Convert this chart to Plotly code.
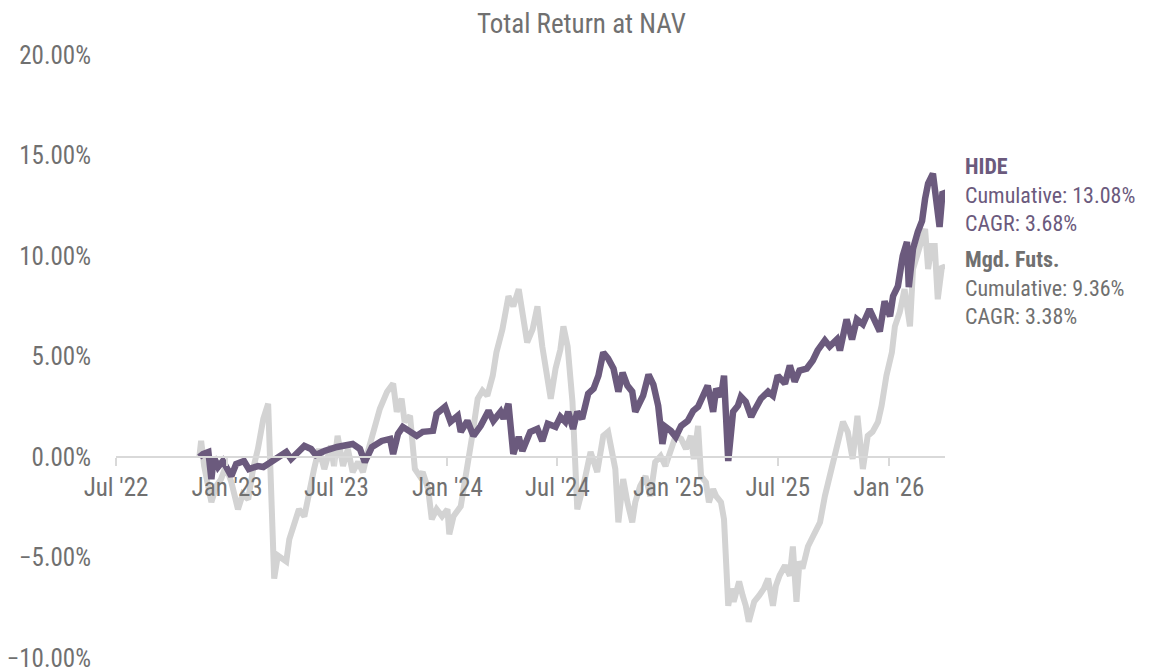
import plotly.graph_objects as go

# -------- DATA (total return at NAV, %) --------
hide_dates = [
    "2022-11-16", "2022-11-22", "2022-12-01", "2022-12-06", "2022-12-10", "2022-12-17", "2022-12-25",
    "2022-12-30", "2023-01-08", "2023-01-16", "2023-01-29", "2023-02-06", "2023-02-21", "2023-03-02",
    "2023-03-15", "2023-04-09", "2023-04-17", "2023-04-29", "2023-05-09", "2023-05-20", "2023-05-28",
    "2023-06-11", "2023-07-02", "2023-07-28", "2023-08-09", "2023-08-17", "2023-08-29", "2023-09-14",
    "2023-09-28", "2023-10-03", "2023-10-11", "2023-10-19", "2023-10-31", "2023-11-11", "2023-11-21",
    "2023-12-08", "2023-12-14", "2023-12-28", "2024-01-06", "2024-01-18", "2024-01-23", "2024-02-03",
    "2024-02-13", "2024-02-25", "2024-03-09", "2024-03-17", "2024-03-29", "2024-04-03", "2024-04-11",
    "2024-04-19", "2024-04-28", "2024-05-04", "2024-05-17", "2024-05-29", "2024-06-06", "2024-06-15",
    "2024-06-28", "2024-07-06", "2024-07-14", "2024-07-19", "2024-07-27", "2024-08-03", "2024-08-11",
    "2024-08-21", "2024-08-30", "2024-09-07", "2024-09-15", "2024-09-23", "2024-10-02", "2024-10-10",
    "2024-10-17", "2024-10-25", "2024-11-02", "2024-11-07", "2024-11-15", "2024-11-20", "2024-11-29",
    "2024-12-07", "2024-12-15", "2024-12-22", "2024-12-27", "2025-01-05", "2025-01-13", "2025-01-22",
    "2025-02-02", "2025-02-11", "2025-02-19", "2025-03-01", "2025-03-07", "2025-03-16", "2025-03-21",
    "2025-03-29", "2025-04-03", "2025-04-10", "2025-04-18", "2025-04-26", "2025-05-01", "2025-05-09",
    "2025-05-18", "2025-05-23", "2025-06-03", "2025-06-15", "2025-06-23", "2025-07-01", "2025-07-13",
    "2025-07-21", "2025-07-29", "2025-08-06", "2025-08-18", "2025-08-28", "2025-09-05", "2025-09-17",
    "2025-09-25", "2025-10-07", "2025-10-12", "2025-10-23", "2025-11-01", "2025-11-09", "2025-11-19",
    "2025-11-30", "2025-12-09", "2025-12-17", "2025-12-25", "2026-01-03", "2026-01-08", "2026-01-16",
    "2026-01-24", "2026-01-31", "2026-02-03", "2026-02-10", "2026-02-18", "2026-02-25", "2026-03-02",
    "2026-03-07", "2026-03-15", "2026-03-21", "2026-03-26", "2026-03-31", "2026-04-04",
]
hide_ret = [
    0.0, 0.15, 0.25, -1.1, 0.0, -0.5, -0.2,
    -0.45, -0.95, -0.35, -0.2, -0.6, -0.45, -0.5,
    -0.25, 0.25, -0.1, 0.3, 0.55, 0.4, 0.1,
    0.3, 0.5, 0.65, 0.4, -0.25, 0.5, 0.8,
    0.9, 0.15, 1.15, 1.5, 1.25, 1.05, 1.25,
    1.3, 2.15, 2.5, 1.75, 2.05, 1.25, 1.8,
    1.05, 1.55, 2.3, 1.8, 2.25, 1.9, 2.65,
    0.15, 1.0, 0.3, 1.25, 1.4, 0.8, 1.65,
    1.5, 2.0, 1.75, 2.25, 1.4, 2.25, 1.9,
    3.15, 3.4, 4.05, 5.2, 4.9, 4.4, 3.25,
    4.2, 3.55, 3.25, 2.25, 2.75, 3.05, 4.1,
    3.6, 2.55, 0.65, 1.5, 1.3, 1.0, 1.55,
    1.8, 2.3, 2.5, 3.15, 3.55, 2.25, 3.4,
    3.0, 4.05, -0.2, 2.25, 2.55, 3.0, 2.75,
    2.0, 2.3, 2.9, 3.25, 3.05, 4.05, 3.65,
    4.55, 3.75, 4.3, 4.4, 4.8, 5.3, 5.8,
    5.5, 5.85, 5.3, 6.85, 5.85, 6.85, 6.6,
    7.35, 6.85, 6.25, 7.75, 7.0, 8.0, 8.5,
    10.0, 10.7, 8.45, 10.35, 11.2, 11.75, 12.85,
    13.6, 14.1, 12.35, 11.45, 13.2, 13.08,
]

mf_dates = [
    "2022-11-16", "2022-11-19", "2022-11-24", "2022-12-06", "2022-12-14", "2022-12-22", "2022-12-30",
    "2023-01-08", "2023-01-19", "2023-01-27", "2023-02-05", "2023-02-13", "2023-02-21", "2023-03-02",
    "2023-03-10", "2023-03-15", "2023-03-18", "2023-03-20", "2023-03-26", "2023-04-04", "2023-04-09",
    "2023-04-14", "2023-04-22", "2023-04-30", "2023-05-09", "2023-05-17", "2023-05-25", "2023-06-02",
    "2023-06-11", "2023-06-22", "2023-06-27", "2023-07-03", "2023-07-12", "2023-07-20", "2023-07-28",
    "2023-08-06", "2023-08-14", "2023-08-22", "2023-08-30", "2023-09-11", "2023-09-23", "2023-10-03",
    "2023-10-09", "2023-10-17", "2023-10-22", "2023-10-31", "2023-11-08", "2023-11-16", "2023-11-21",
    "2023-11-30", "2023-12-06", "2023-12-14", "2023-12-23", "2024-01-01", "2024-01-04", "2024-01-11",
    "2024-01-23", "2024-02-03", "2024-02-11", "2024-02-20", "2024-02-28", "2024-03-07", "2024-03-16",
    "2024-03-22", "2024-04-01", "2024-04-11", "2024-04-19", "2024-04-28", "2024-05-06", "2024-05-12",
    "2024-05-21", "2024-05-29", "2024-06-06", "2024-06-15", "2024-06-20", "2024-06-28", "2024-07-06",
    "2024-07-11", "2024-07-18", "2024-07-26", "2024-08-03", "2024-08-13", "2024-08-25", "2024-09-05",
    "2024-09-15", "2024-09-23", "2024-10-05", "2024-10-10", "2024-10-18", "2024-10-25", "2024-11-02",
    "2024-11-07", "2024-11-15", "2024-11-24", "2024-12-02", "2024-12-10", "2024-12-19", "2024-12-27",
    "2025-01-05", "2025-01-13", "2025-01-22", "2025-01-30", "2025-02-07", "2025-02-12", "2025-02-19",
    "2025-02-24", "2025-03-04", "2025-03-09", "2025-03-16", "2025-03-21", "2025-03-29", "2025-04-03",
    "2025-04-10", "2025-04-15", "2025-04-19", "2025-04-28", "2025-05-04", "2025-05-09", "2025-05-14",
    "2025-05-23", "2025-05-31", "2025-06-08", "2025-06-15", "2025-06-23", "2025-06-28", "2025-07-04",
    "2025-07-13", "2025-07-21", "2025-07-26", "2025-08-01", "2025-08-06", "2025-08-11", "2025-08-20",
    "2025-08-28", "2025-09-09", "2025-09-17", "2025-09-25", "2025-10-03", "2025-10-12", "2025-10-17",
    "2025-10-25", "2025-11-02", "2025-11-10", "2025-11-19", "2025-11-27", "2025-12-05", "2025-12-14",
    "2025-12-20", "2025-12-28", "2026-01-06", "2026-01-11", "2026-01-19", "2026-01-27", "2026-02-05",
    "2026-02-10", "2026-02-18", "2026-02-25", "2026-03-02", "2026-03-07", "2026-03-13", "2026-03-18",
    "2026-03-23", "2026-03-30", "2026-04-04",
]
mf_ret = [
    0.0, 0.8, -0.45, -2.25, -1.45, -1.1, -0.45,
    -1.25, -2.6, -1.85, -2.1, -0.6, 0.4, 1.9,
    2.65, -2.25, -5.2, -6.05, -4.9, -5.05, -5.2,
    -4.1, -3.25, -2.6, -2.95, -1.6, -0.6, 0.4,
    -0.6, 0.55, -0.45, 1.05, -0.45, 0.4, -0.75,
    -0.25, -0.75, 0.25, 1.05, 2.4, 3.25, 3.65,
    2.25, 2.9, 1.75, 2.05, -0.6, -0.95, -0.75,
    -1.6, -3.1, -2.6, -2.95, -2.6, -3.85, -2.95,
    -2.45, -0.6, 1.05, 2.9, 3.3, 3.05, 4.05,
    5.2, 6.35, 8.0, 7.5, 8.35, 6.7, 5.7,
    6.35, 7.5, 5.5, 3.9, 2.9, 4.4, 5.35,
    6.5, 5.5, 2.75, -2.6, -1.45, 0.25, -0.75,
    1.05, 1.25, -0.6, -3.25, -1.1, -2.25, -3.25,
    -2.25, -1.45, -0.95, -1.95, -0.25, 0.05, -0.45,
    0.25, 1.05, 0.9, 0.4, 1.05, -0.1, 1.55,
    -0.95, -1.25, -2.25, -1.6, -1.95, -2.25, -3.1,
    -7.4, -6.55, -7.2, -6.2, -6.9, -7.4, -8.2,
    -7.2, -6.9, -6.55, -6.05, -7.4, -6.4, -5.9,
    -5.4, -5.9, -4.45, -7.2, -5.2, -5.55, -4.45,
    -3.95, -3.25, -1.95, -0.95, 0.05, 1.4, 1.75,
    1.25, -0.1, 2.05, -0.6, 1.05, 1.25, 1.75,
    2.55, 4.05, 5.2, 6.5, 7.2, 8.35, 6.5,
    9.35, 10.2, 10.7, 11.35, 9.35, 10.5, 10.5,
    7.85, 9.5, 9.36,
]

hide_label = ["HIDE", "Cumulative: 13.08%", "CAGR: 3.68%"]
mf_label = ["Mgd. Futs.", "Cumulative: 9.36%", "CAGR: 3.38%"]

subtitulo = "Total Return at NAV"

PURPLE = "#6b5a7d"
LIGHT = "#d3d3d3"
TXT = "#707070"
FONT = "Roboto Condensed, Liberation Sans Narrow, DejaVu Sans Condensed, Roboto, sans-serif"

fig = go.Figure()
fig.add_trace(go.Scatter(x=mf_dates, y=mf_ret, mode="lines", name="Mgd. Futs.",
                         line=dict(color=LIGHT, width=6)))
fig.add_trace(go.Scatter(x=hide_dates, y=hide_ret, mode="lines", name="HIDE",
                         line=dict(color=PURPLE, width=6.5)))

# -------- LABELS A LA DERECHA (un bloque por serie) --------
for lbl, color, ypos in [(hide_label, PURPLE, 0.768), (mf_label, TXT, 0.6136)]:
    texto = "<b>%s</b><br>%s<br>%s" % (lbl[0], lbl[1], lbl[2])
    fig.add_annotation(
        x=1.022, y=ypos, xref="paper", yref="paper", xanchor="left", yanchor="middle",
        text=texto, showarrow=False, align="left",
        font=dict(family=FONT, size=22, color=color),
    )

# subtitulo
fig.add_annotation(x=0.562, y=1.0514, xref="paper", yref="paper", xanchor="center", yanchor="middle",
                   text=subtitulo, showarrow=False,
                   font=dict(family=FONT, size=27, color=TXT))

# la pagina tiene 8px de margen en el body: se compensa en tamano y margenes
fig.update_layout(
    width=1141, height=661,
    margin=dict(l=108, r=204, t=47, b=11),
    paper_bgcolor="white", plot_bgcolor="white",
    showlegend=False,
    font=dict(family=FONT, color=TXT, size=25),
    xaxis=dict(
        range=["2022-07-01", "2026-04-04"],
        tick0="2022-07-01", dtick="M6", tickformat="%b '%y",
        anchor="free", position=1 / 3,
        showline=True, linecolor="#d9d9d9", linewidth=2,
        ticks="outside", ticklen=8, tickcolor="#d9d9d9", tickwidth=2,
        showgrid=False, zeroline=False, automargin=False,
        tickfont=dict(size=25, color=TXT),
    ),
    yaxis=dict(
        range=[-10, 20], dtick=5, tickformat=".2f", ticksuffix="%",
        showgrid=False, zeroline=False, showline=False, automargin=False,
        ticklabelstandoff=24, ticklabeloverflow="allow",
        tickfont=dict(size=25, color=TXT),
    ),
)

fig.write_html("out.html")
